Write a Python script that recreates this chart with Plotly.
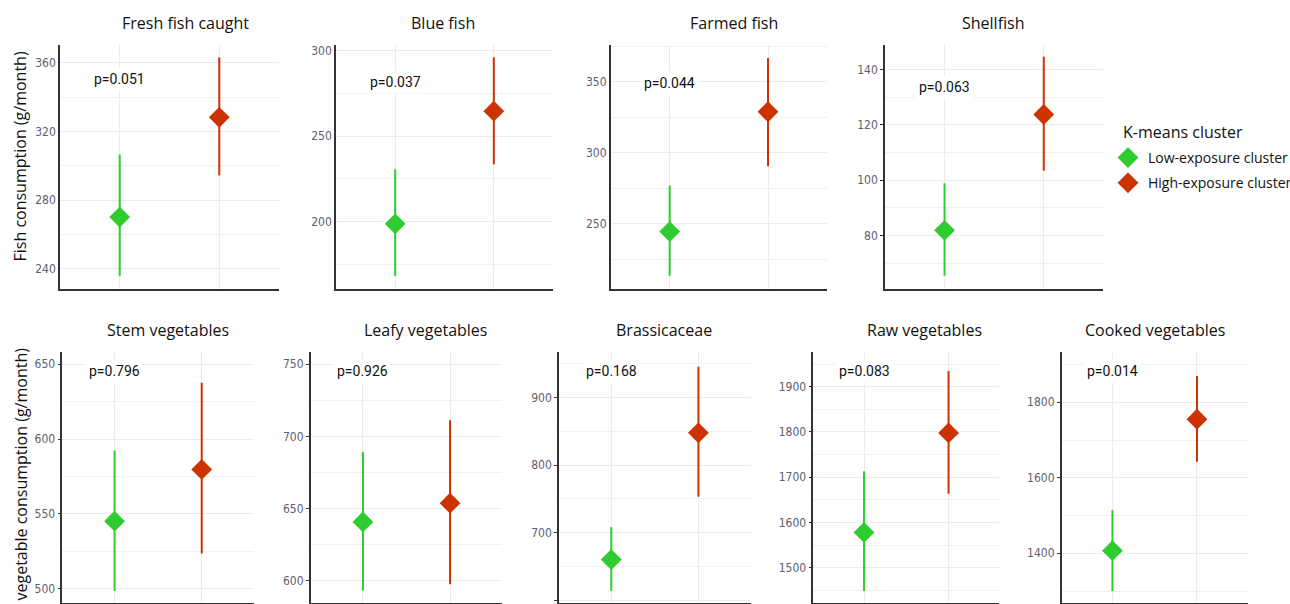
import plotly.graph_objects as go

W, H = 1290, 604

# ---------------- data ----------------
panels = ["Fresh fish caught", "Blue fish", "Farmed fish", "Shellfish",
          "Stem vegetables", "Leafy vegetables", "Brassicaceae", "Raw vegetables", "Cooked vegetables"]
clusters = ["Low-exposure cluster", "High-exposure cluster"]
low_mean = [270.1, 198.7, 244.6, 81.9, 545.1, 640.7, 660.0, 1577.9, 1406.9]
low_lo   = [235.7, 168.2, 213.6, 65.5, 498.5, 592.9, 613.4, 1448.5, 1300.1]
low_hi   = [306.6, 230.6, 277.1, 98.9, 592.4, 689.1, 708.3, 1713.3, 1514.7]
high_mean = [328.2, 264.6, 329.0, 123.7, 579.7, 653.7, 847.9, 1797.8, 1755.0]
high_lo   = [294.4, 233.5, 290.7, 103.4, 523.5, 597.5, 753.0, 1663.3, 1642.4]
high_hi   = [363.1, 296.1, 366.8, 144.6, 637.7, 711.1, 946.0, 1934.7, 1869.7]
p_labels = ["p=0.051", "p=0.037", "p=0.044", "p=0.063",
            "p=0.796", "p=0.926", "p=0.168", "p=0.083", "p=0.014"]
y_titles = ["Fish consumption (g/month)", "vegetable consumption (g/month)"]
legend_title = "K-means cluster"

# ---------------- layout (pixel geometry) ----------------
x_px = [(60, 279), (336, 553), (610.7, 827), (885, 1103.3),
        (62.3, 254), (310.7, 502.3), (559, 750.7), (813.3, 999.3), (1061.7, 1247.7)]
y_px = [(45, 289)] * 4 + [(351.7, 602.7)] * 5
y_ranges = [(228.2, 370.3), (160.6, 303.3), (204.2, 376), (60.7, 148.8),
            (490.6, 658.4), (584.7, 758.7), (596, 968.2), (1422.7, 1977.3), (1269.1, 1934)]
y_dticks = [40, 50, 50, 20, 50, 50, 100, 100, 200]
title_x_px = [185.5, 443, 733.7, 994, 167.7, 425.8, 664, 924, 1155]
title_y_px = [22.7] * 4 + [330] * 5
p_y_frac = [0.861, 0.848, 0.845, 0.826, 0.924, 0.924, 0.924, 0.924, 0.924]

GREEN = "#2ECC2E"
RED = "#CC3300"
GRID = "#EBEBEB"
TICKC = "#5E6070"

fig = go.Figure()
layout = dict(width=W, height=H, margin=dict(l=0, r=0, t=0, b=0, autoexpand=False), autosize=False,
              paper_bgcolor="white", plot_bgcolor="white", showlegend=True)
annotations = []

for i, name in enumerate(panels):
    k = "" if i == 0 else str(i + 1)
    xa, ya = "x" + k, "y" + k
    x0, x1 = x_px[i]
    yt, yb = y_px[i]
    layout["xaxis" + k] = dict(domain=[x0 / W, x1 / W], range=[0.4, 2.6], anchor=ya,
                               tickvals=[1, 2], showticklabels=False, ticks="",
                               showgrid=True, gridcolor=GRID, gridwidth=1,
                               showline=True, linecolor="#333333", linewidth=1.5,
                               zeroline=False, fixedrange=True)
    top_ticks = i in (0, 1, 2)
    layout["yaxis" + k] = dict(domain=[1 - yb / H, 1 - yt / H], range=list(y_ranges[i]), anchor=xa,
                               dtick=y_dticks[i], tick0=0,
                               ticks="outside", ticklen=3 if not top_ticks else 0,
                               tickcolor="#333333", tickwidth=1,
                               tickfont=dict(family="Liberation Sans Narrow, DejaVu Sans Condensed, Roboto, sans-serif",
                                             size=12, color=TICKC),
                               showgrid=True, gridcolor=GRID, gridwidth=1,
                               minor=dict(dtick=y_dticks[i] / 2, showgrid=True,
                                          gridcolor="#F0F0F0", gridwidth=1, ticks=""),
                               showline=True, linecolor="#333333", linewidth=1.5,
                               zeroline=False, fixedrange=True)
    for j, (mean, lo, hi, col) in enumerate([(low_mean, low_lo, low_hi, GREEN),
                                             (high_mean, high_lo, high_hi, RED)]):
        fig.add_trace(go.Scatter(
            x=[j + 1], y=[mean[i]], xaxis=xa, yaxis=ya, mode="markers",
            name=clusters[j], legendgroup=clusters[j], showlegend=(i == 0),
            marker=dict(symbol="diamond", size=16, color=col, line=dict(width=0)),
            error_y=dict(type="data", symmetric=False,
                         array=[hi[i] - mean[i]], arrayminus=[mean[i] - lo[i]],
                         color=col, thickness=2, width=0),
            hoverinfo="skip"))
    # panel title
    annotations.append(dict(text=name, x=title_x_px[i] / W, y=1 - title_y_px[i] / H,
                            xref="paper", yref="paper", showarrow=False,
                            xanchor="center", yanchor="middle",
                            font=dict(family="Open Sans, sans-serif", size=16, color="#111111")))
    # p-value label
    annotations.append(dict(text=p_labels[i], x=1, y=p_y_frac[i], xref=xa, yref=ya + " domain",
                            showarrow=False, xanchor="center", yanchor="middle",
                            bgcolor="white", borderpad=3,
                            font=dict(family="Roboto, sans-serif", size=14, color="#111111")))

# y-axis titles
annotations.append(dict(text=y_titles[0], x=20 / W, y=1 - 156.5 / H, xref="paper", yref="paper",
                        showarrow=False, textangle=-90, xanchor="center", yanchor="middle",
                        font=dict(family="Open Sans, sans-serif", size=16, color="#111111")))
annotations.append(dict(text=y_titles[1], x=20 / W, y=1 - 603 / H, xref="paper", yref="paper",
                        showarrow=False, textangle=-90, xanchor="center", yanchor="bottom",
                        font=dict(family="Open Sans, sans-serif", size=16, color="#111111")))
# legend title
annotations.append(dict(text=legend_title, x=1121 / W, y=1 - 132 / H, xref="paper", yref="paper",
                        showarrow=False, xanchor="left", yanchor="middle",
                        font=dict(family="Open Sans, sans-serif", size=16, color="#111111")))

layout["annotations"] = annotations
layout["legend"] = dict(x=1108 / W, y=1 - 142 / H, xanchor="left", yanchor="top",
                        font=dict(family="Open Sans, sans-serif", size=14, color="#111111"),
                        bgcolor="rgba(0,0,0,0)", tracegroupgap=4, itemsizing="trace")
fig.update_layout(**layout)
fig.write_html("out.html", config={"displayModeBar": False},
               post_script="document.body.style.margin='0';document.body.style.overflow='hidden';")
